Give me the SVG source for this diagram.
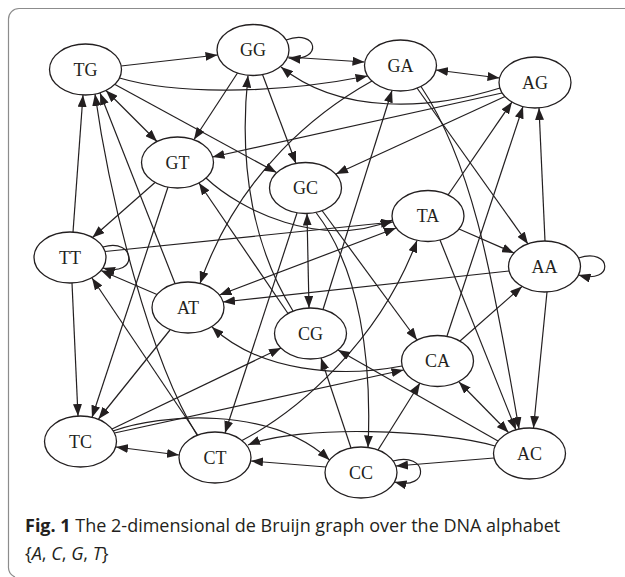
<svg xmlns="http://www.w3.org/2000/svg" width="625" height="577" viewBox="0 0 625 577">
<style>
.e{fill:none;stroke:#231f20;stroke-width:1.2;marker-end:url(#ah)}
.d{marker-start:url(#ah)}
.n ellipse{fill:#fff;stroke:#231f20;stroke-width:1.3}
.n text{font-family:"Liberation Serif","Times New Roman",serif;font-size:18px;fill:#231f20;text-anchor:middle}
.cap{font-family:"Open Sans","Noto Sans",sans-serif;font-size:18px;fill:#231f20}
</style>
<defs>
<marker id="ah" viewBox="0 0 12 9" refX="12" refY="4.5" markerWidth="12" markerHeight="9" markerUnits="userSpaceOnUse" orient="auto-start-reverse">
<path d="M0,0 L12,4.5 L0,9 z" fill="#231f20"/>
</marker>
</defs>
<rect width="625" height="577" fill="#fff"/>
<path d="M625,8.5 H19 A10.5,10.5 0 0 0 8.5,19 V566 A11,11 0 0 0 15,577" fill="none" stroke="#8c8c8c" stroke-width="1.2"/>
<g id="connectors">
<path class="e" d="M121,66 L217.5,55"/>
<path class="e" d="M119.5,78 C170,93 265,96 367.5,76"/>
<path class="e d" d="M106,90.5 L157,141.5"/>
<path class="e" d="M115,84.5 L276.5,172.5"/>
<path class="e" d="M287.5,57 L364.5,62"/>
<path class="e" d="M262.5,74.5 L296,163.5"/>
<path class="e" d="M237.5,73 L194,139.5"/>
<path class="e" d="M286,40 C318,28 324,62 288.5,58"/>
<path class="e d" d="M436,70 L499.5,78"/>
<path class="e" d="M417,88 L528,244"/>
<path class="e" d="M421,86.5 C470,160 490,260 519,429"/>
<path class="e" d="M372,81 C320,110 240,170 200,283.5"/>
<path class="e" d="M500,88 C430,110 340,115 281,67"/>
<path class="e" d="M502,93 L212.5,157"/>
<path class="e" d="M505,96.5 L336,174"/>
<path class="e" d="M578.5,258 C612,247 615,285 578.5,275"/>
<path class="e" d="M547,292 L533.5,428"/>
<path class="e" d="M545,241 L539,108"/>
<path class="e" d="M509,271 L223,302"/>
<path class="e d" d="M459,382 L508.5,432.5"/>
<path class="e" d="M494,458 L396,466"/>
<path class="e" d="M498,441 L338,350"/>
<path class="e" d="M495,446 C440,430 300,424 248,445"/>
<path class="e" d="M170,330 L98.5,419"/>
<path class="e" d="M175,283.5 L100,93"/>
<path class="e" d="M157,294.5 L101,270.5"/>
<path class="e d" d="M219.5,295 L396,228"/>
<path class="e" d="M460,341 L522,286.5"/>
<path class="e" d="M447,336 L523,106.5"/>
<path class="e" d="M402,366 C340,378 260,372 212,327"/>
<path class="e" d="M378,450 L420,383"/>
<path class="e" d="M351,448 L321,358"/>
<path class="e" d="M326,467 L251,461"/>
<path class="e" d="M393,461 C428,451 431,491 394.5,482"/>
<path class="e d" d="M307,213.5 L309,308"/>
<path class="e" d="M323,309.5 L392,90.5"/>
<path class="e" d="M293,311 C255,250 238,170 248,75.5"/>
<path class="e" d="M288,313.5 L199,183"/>
<path class="e" d="M242,440.5 C300,410 380,340 417,240.5"/>
<path class="e d" d="M116,447 L179,455"/>
<path class="e" d="M197,435 C150,360 110,200 95,94"/>
<path class="e" d="M198,435.5 L92,278"/>
<path class="e" d="M322,210.5 L417,340"/>
<path class="e" d="M316,212.5 C360,270 372,360 368,447.5"/>
<path class="e" d="M297,213 L225,433"/>
<path class="e" d="M206,178 C240,210 320,250 392.5,220"/>
<path class="e" d="M168,187 L92,417.5"/>
<path class="e" d="M155,182.5 L92.5,237.5"/>
<path class="e" d="M459,229 L514,253"/>
<path class="e" d="M440,240 L516,430"/>
<path class="e" d="M448,195 L512,102"/>
<path class="e" d="M114.5,433 L403.5,370"/>
<path class="e" d="M113,431 C160,414 270,405 329.5,460"/>
<path class="e" d="M112,429 L281,348"/>
<path class="e" d="M105,251.5 L393,222"/>
<path class="e" d="M72,283 L78,416"/>
<path class="e" d="M73,232 L83,95"/>
<path class="e" d="M103,247 C136,237 139,278 103,268"/>
</g>
<g id="TG" class="n"><ellipse cx="85.5" cy="69.5" rx="36" ry="25.5"/><text x="85.5" y="75.5">TG</text></g>
<g id="GG" class="n"><ellipse cx="253" cy="50" rx="36" ry="25.5"/><text x="253" y="56">GG</text></g>
<g id="GA" class="n"><ellipse cx="400.5" cy="65.5" rx="36" ry="25.5"/><text x="400.5" y="71.5">GA</text></g>
<g id="AG" class="n"><ellipse cx="535" cy="82.5" rx="36" ry="25.5"/><text x="535" y="88.5">AG</text></g>
<g id="GT" class="n"><ellipse cx="177.5" cy="162.5" rx="36" ry="25.5"/><text x="177.5" y="168.5">GT</text></g>
<g id="GC" class="n"><ellipse cx="305.5" cy="188" rx="36" ry="25.5"/><text x="305.5" y="194">GC</text></g>
<g id="TA" class="n"><ellipse cx="428" cy="216" rx="36" ry="25.5"/><text x="428" y="222">TA</text></g>
<g id="AA" class="n"><ellipse cx="544.5" cy="266.5" rx="36" ry="25.5"/><text x="544.5" y="272.5">AA</text></g>
<g id="TT" class="n"><ellipse cx="70" cy="257.5" rx="36" ry="25.5"/><text x="70" y="263.5">TT</text></g>
<g id="AT" class="n"><ellipse cx="188" cy="307.5" rx="36" ry="25.5"/><text x="188" y="313.5">AT</text></g>
<g id="CG" class="n"><ellipse cx="310.5" cy="333.5" rx="36" ry="25.5"/><text x="310.5" y="339.5">CG</text></g>
<g id="CA" class="n"><ellipse cx="437.5" cy="361" rx="36" ry="25.5"/><text x="437.5" y="367">CA</text></g>
<g id="TC" class="n"><ellipse cx="80.5" cy="441.5" rx="36" ry="25.5"/><text x="80.5" y="447.5">TC</text></g>
<g id="CT" class="n"><ellipse cx="215" cy="457.5" rx="36" ry="25.5"/><text x="215" y="463.5">CT</text></g>
<g id="CC" class="n"><ellipse cx="361" cy="472.5" rx="36" ry="25.5"/><text x="361" y="478.5">CC</text></g>
<g id="AC" class="n"><ellipse cx="529.5" cy="453.5" rx="36" ry="25.5"/><text x="529.5" y="459.5">AC</text></g>
<text class="cap" x="25" y="532"><tspan font-weight="bold">Fig. 1</tspan> The 2-dimensional de Bruijn graph over the DNA alphabet</text>
<text class="cap" x="25" y="560">{<tspan font-style="italic">A</tspan>, <tspan font-style="italic">C</tspan>, <tspan font-style="italic">G</tspan>, <tspan font-style="italic">T</tspan>}</text>
</svg>
